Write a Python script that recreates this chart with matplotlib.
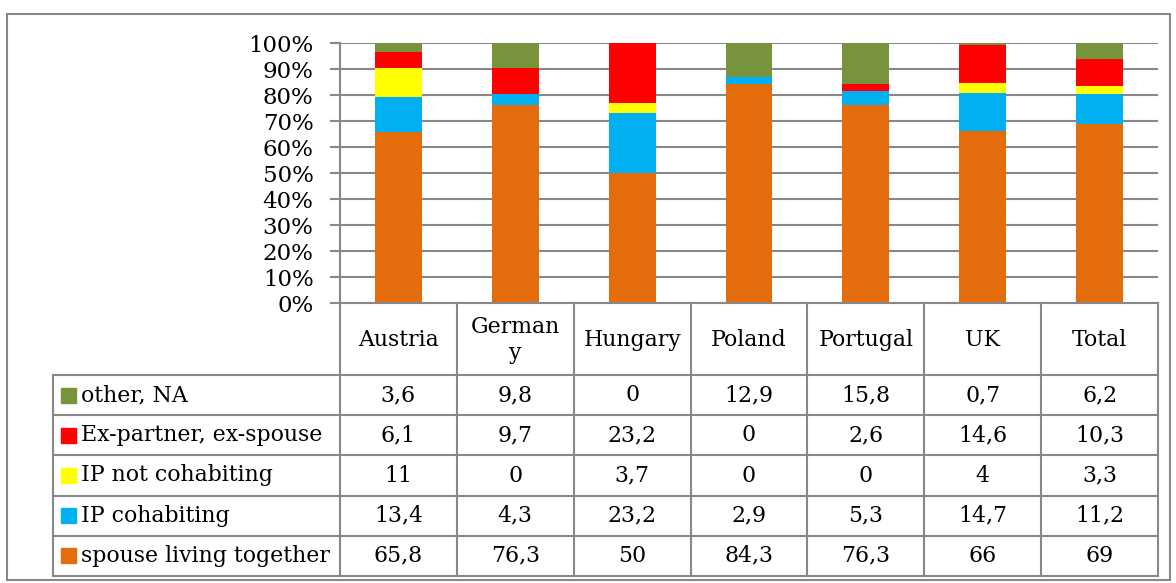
import matplotlib
matplotlib.use("Agg")
import matplotlib.pyplot as plt
from matplotlib.patches import Rectangle

categories = ["Austria", "German\ny", "Hungary", "Poland", "Portugal", "UK", "Total"]
series_names = ["spouse living together", "IP cohabiting", "IP not cohabiting",
                "Ex-partner, ex-spouse", "other, NA"]
spouse = [65.8, 76.3, 50, 84.3, 76.3, 66, 69]
ip_cohab = [13.4, 4.3, 23.2, 2.9, 5.3, 14.7, 11.2]
ip_not_cohab = [11, 0, 3.7, 0, 0, 4, 3.3]
ex_partner = [6.1, 9.7, 23.2, 0, 2.6, 14.6, 10.3]
other = [3.6, 9.8, 0, 12.9, 15.8, 0.7, 6.2]
colors = ["#E46C0A", "#00B0F0", "#FFFF00", "#FF0000", "#77933C"]
yticks = [0, 10, 20, 30, 40, 50, 60, 70, 80, 90, 100]

series = [spouse, ip_cohab, ip_not_cohab, ex_partner, other]

W, H = 1176, 583
plt.rcParams["font.family"] = ["DejaVu Serif"]
FS = 15.8
GRID = "#888888"

fig = plt.figure(figsize=(W / 100, H / 100), dpi=100)

# outer frame
frame = fig.add_axes([0, 0, 1, 1])
frame.set_xlim(0, W)
frame.set_ylim(H, 0)
frame.axis("off")
frame.add_patch(Rectangle((7, 14), 1163, 566, fill=False, ec=GRID, lw=1.5))

# bar area
x0, x1, ytop, ybot = 340, 1158, 43, 303
ax = fig.add_axes([x0 / W, 1 - ybot / H, (x1 - x0) / W, (ybot - ytop) / H])
n = len(categories)
xs = list(range(n))
total = [sum(v) for v in zip(*series)]
bottom = [0] * n
for vals, col in zip(series, colors):
    pct = [100 * v / t for v, t in zip(vals, total)]
    ax.bar(xs, pct, bottom=bottom, width=0.4, color=col, zorder=3)
    bottom = [b + p for b, p in zip(bottom, pct)]
ax.set_xlim(-0.5, n - 0.5)
ax.set_ylim(0, 100)
ax.set_yticks(yticks)
ax.set_yticklabels([f"{t}%" for t in yticks], fontsize=16.5)
ax.set_xticks([])
ax.yaxis.grid(True, color=GRID, lw=1.5, zorder=0)
for s in ["top", "right", "bottom"]:
    ax.spines[s].set_visible(False)
ax.spines["left"].set_color(GRID)
ax.spines["left"].set_linewidth(1.5)
ax.tick_params(axis="y", length=7, width=1.5, color=GRID, pad=12)

# data table below
tab = fig.add_axes([0, 0, 1, 1], zorder=2)
tab.set_xlim(0, W)
tab.set_ylim(H, 0)
tab.axis("off")
colw = (x1 - x0) / n
lx = 53
head_bot = 375
rowh = (576 - head_bot) / len(series)
lw = 1.5
# horizontal lines
tab.plot([x0, x1], [ybot, ybot], color=GRID, lw=lw)
for r in range(len(series) + 1):
    y = head_bot + r * rowh
    tab.plot([lx, x1], [y, y], color=GRID, lw=lw)
# vertical lines
for c in range(n + 1):
    xc = x0 + c * colw
    tab.plot([xc, xc], [ybot, 576], color=GRID, lw=lw)
tab.plot([lx, lx], [head_bot, 576], color=GRID, lw=lw)
# header
for i, cat in enumerate(categories):
    tab.text(x0 + (i + 0.5) * colw, (ybot + head_bot) / 2 + 1, cat,
             ha="center", va="center", fontsize=FS, linespacing=1.2)
# rows (top row = last series)
for r, idx in enumerate(reversed(range(len(series)))):
    yc = head_bot + (r + 0.5) * rowh
    tab.add_patch(Rectangle((61, yc - 7.5), 15, 15, color=colors[idx]))
    tab.text(81, yc, series_names[idx], ha="left", va="center", fontsize=FS)
    for i, v in enumerate(series[idx]):
        txt = f"{v:g}".replace(".", ",")
        tab.text(x0 + (i + 0.5) * colw, yc, txt, ha="center", va="center", fontsize=FS)

fig.savefig("out.png", dpi=100)
